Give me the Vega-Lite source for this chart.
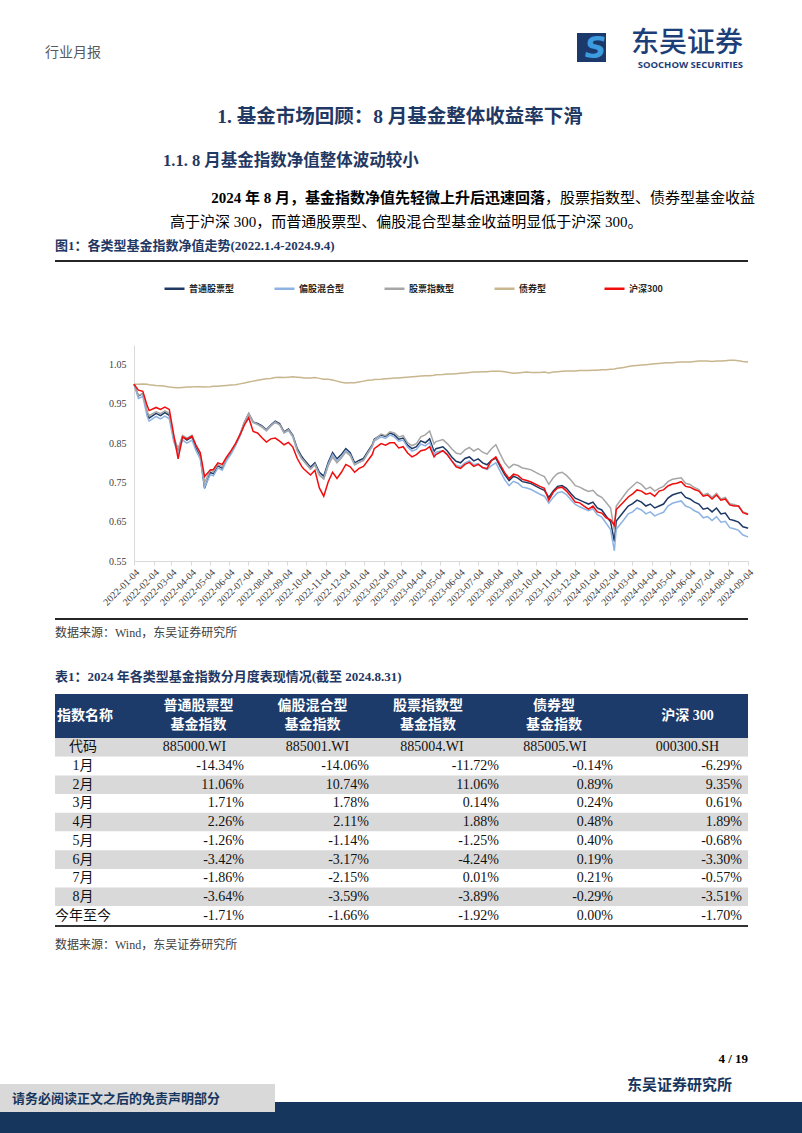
{
  "$schema": "https://vega.github.io/schema/vega-lite/v6.json",
  "background": "#ffffff",
  "padding": 0,
  "spacing": 0,
  "config": {
    "view": {"stroke": null},
    "concat": {"spacing": 0},
    "title": {"orient": "bottom", "anchor": "start", "frame": "group", "font": "Liberation Serif, Noto Sans CJK SC", "fontWeight": "normal", "color": "#000000", "offset": 0, "limit": 0},
    "axis": {"grid": false}
  },
  "datasets": {
    "净值走势": [
      {"日期":"2022-01-04","普通股票型":1.000,"偏股混合型":1.000,"股票指数型":1.000,"债券型":1.000,"沪深300":1.000},
      {"日期":"2022-01-11","普通股票型":0.970,"偏股混合型":0.964,"股票指数型":0.972,"债券型":1.000,"沪深300":0.985},
      {"日期":"2022-01-18","普通股票型":0.976,"偏股混合型":0.969,"股票指数型":0.976,"债券型":1.001,"沪深300":0.982},
      {"日期":"2022-01-25","普通股票型":0.926,"偏股混合型":0.918,"股票指数型":0.930,"债券型":1.000,"沪深300":0.945},
      {"日期":"2022-01-28","普通股票型":0.914,"偏股混合型":0.906,"股票指数型":0.920,"债券型":0.999,"沪深300":0.933},
      {"日期":"2022-02-08","普通股票型":0.926,"偏股混合型":0.918,"股票指数型":0.930,"债券型":0.997,"沪深300":0.941},
      {"日期":"2022-02-15","普通股票型":0.920,"偏股混合型":0.912,"股票指数型":0.925,"债券型":0.996,"沪深300":0.936},
      {"日期":"2022-02-22","普通股票型":0.928,"偏股混合型":0.919,"股票指数型":0.932,"债券型":0.995,"沪深300":0.942},
      {"日期":"2022-03-01","普通股票型":0.921,"偏股混合型":0.912,"股票指数型":0.926,"债券型":0.993,"沪深300":0.936},
      {"日期":"2022-03-08","普通股票型":0.862,"偏股混合型":0.854,"股票指数型":0.866,"债券型":0.992,"沪深300":0.872},
      {"日期":"2022-03-15","普通股票型":0.832,"偏股混合型":0.824,"股票指数型":0.836,"债券型":0.991,"沪深300":0.810},
      {"日期":"2022-03-22","普通股票型":0.866,"偏股混合型":0.858,"股票指数型":0.870,"债券型":0.992,"沪深300":0.866},
      {"日期":"2022-03-29","普通股票型":0.858,"偏股混合型":0.850,"股票指数型":0.863,"债券型":0.993,"沪深300":0.860},
      {"日期":"2022-04-06","普通股票型":0.866,"偏股混合型":0.858,"股票指数型":0.870,"债券型":0.993,"沪深300":0.868},
      {"日期":"2022-04-12","普通股票型":0.840,"偏股混合型":0.832,"股票指数型":0.846,"债券型":0.994,"沪深300":0.846},
      {"日期":"2022-04-19","普通股票型":0.818,"偏股混合型":0.810,"股票指数型":0.822,"债券型":0.994,"沪深300":0.826},
      {"日期":"2022-04-26","普通股票型":0.735,"偏股混合型":0.738,"股票指数型":0.750,"债券型":0.993,"沪深300":0.765},
      {"日期":"2022-05-05","普通股票型":0.776,"偏股混合型":0.770,"股票指数型":0.781,"债券型":0.994,"沪深300":0.782},
      {"日期":"2022-05-10","普通股票型":0.772,"偏股混合型":0.767,"股票指数型":0.778,"债券型":0.995,"沪深300":0.783},
      {"日期":"2022-05-17","普通股票型":0.792,"偏股混合型":0.787,"股票指数型":0.796,"债券型":0.995,"沪深300":0.800},
      {"日期":"2022-05-24","普通股票型":0.786,"偏股混合型":0.781,"股票指数型":0.790,"债券型":0.996,"沪深300":0.796},
      {"日期":"2022-05-31","普通股票型":0.810,"偏股混合型":0.806,"股票指数型":0.813,"债券型":0.997,"沪深300":0.815},
      {"日期":"2022-06-07","普通股票型":0.826,"偏股混合型":0.822,"股票指数型":0.829,"债券型":0.998,"沪深300":0.831},
      {"日期":"2022-06-14","普通股票型":0.846,"偏股混合型":0.843,"股票指数型":0.848,"债券型":0.999,"沪深300":0.849},
      {"日期":"2022-06-21","普通股票型":0.870,"偏股混合型":0.868,"股票指数型":0.872,"债券型":1.001,"沪深300":0.871},
      {"日期":"2022-06-28","普通股票型":0.902,"偏股混合型":0.899,"股票指数型":0.904,"债券型":1.003,"沪深300":0.896},
      {"日期":"2022-07-05","普通股票型":0.925,"偏股混合型":0.924,"股票指数型":0.926,"债券型":1.006,"沪深300":0.915},
      {"日期":"2022-07-12","普通股票型":0.904,"偏股混合型":0.902,"股票指数型":0.904,"债券型":1.008,"沪深300":0.880},
      {"日期":"2022-07-19","普通股票型":0.900,"偏股混合型":0.898,"股票指数型":0.898,"债券型":1.010,"沪深300":0.876},
      {"日期":"2022-07-26","普通股票型":0.894,"偏股混合型":0.892,"股票指数型":0.891,"债券型":1.012,"沪深300":0.864},
      {"日期":"2022-08-02","普通股票型":0.884,"偏股混合型":0.882,"股票指数型":0.882,"债券型":1.014,"沪深300":0.853},
      {"日期":"2022-08-09","普通股票型":0.896,"偏股混合型":0.894,"股票指数型":0.894,"债券型":1.015,"沪深300":0.861},
      {"日期":"2022-08-16","普通股票型":0.906,"偏股混合型":0.904,"股票指数型":0.903,"债券型":1.017,"沪深300":0.863},
      {"日期":"2022-08-23","普通股票型":0.900,"偏股混合型":0.897,"股票指数型":0.897,"债券型":1.018,"沪深300":0.855},
      {"日期":"2022-08-30","普通股票型":0.879,"偏股混合型":0.876,"股票指数型":0.877,"债券型":1.017,"沪深300":0.846},
      {"日期":"2022-09-06","普通股票型":0.886,"偏股混合型":0.882,"股票指数型":0.884,"债券型":1.018,"沪深300":0.852},
      {"日期":"2022-09-13","普通股票型":0.870,"偏股混合型":0.866,"股票指数型":0.868,"债券型":1.019,"沪深300":0.840},
      {"日期":"2022-09-20","普通股票型":0.836,"偏股混合型":0.831,"股票指数型":0.831,"债券型":1.018,"沪深300":0.811},
      {"日期":"2022-09-27","普通股票型":0.816,"偏股混合型":0.811,"股票指数型":0.811,"债券型":1.017,"沪深300":0.791},
      {"日期":"2022-09-30","普通股票型":0.810,"偏股混合型":0.805,"股票指数型":0.805,"债券型":1.016,"沪深300":0.785},
      {"日期":"2022-10-11","普通股票型":0.789,"偏股混合型":0.784,"股票指数型":0.784,"债券型":1.016,"沪深300":0.769},
      {"日期":"2022-10-18","普通股票型":0.800,"偏股混合型":0.796,"股票指数型":0.795,"债券型":1.017,"沪深300":0.781},
      {"日期":"2022-10-25","普通股票型":0.776,"偏股混合型":0.771,"股票指数型":0.768,"债券型":1.015,"沪深300":0.736},
      {"日期":"2022-11-01","普通股票型":0.766,"偏股混合型":0.760,"股票指数型":0.759,"债券型":1.013,"沪深300":0.715},
      {"日期":"2022-11-08","普通股票型":0.801,"偏股混合型":0.796,"股票指数型":0.792,"债券型":1.013,"沪深300":0.751},
      {"日期":"2022-11-15","普通股票型":0.826,"偏股混合型":0.821,"股票指数型":0.815,"债券型":1.011,"沪深300":0.776},
      {"日期":"2022-11-22","普通股票型":0.810,"偏股混合型":0.805,"股票指数型":0.800,"债券型":1.008,"沪深300":0.760},
      {"日期":"2022-11-29","普通股票型":0.821,"偏股混合型":0.816,"股票指数型":0.812,"债券型":1.005,"沪深300":0.776},
      {"日期":"2022-12-06","普通股票型":0.836,"偏股混合型":0.831,"股票指数型":0.828,"债券型":1.003,"沪深300":0.796},
      {"日期":"2022-12-13","普通股票型":0.826,"偏股混合型":0.821,"股票指数型":0.818,"债券型":1.004,"沪深300":0.790},
      {"日期":"2022-12-20","普通股票型":0.800,"偏股混合型":0.795,"股票指数型":0.795,"债券型":1.004,"沪深300":0.776},
      {"日期":"2022-12-27","普通股票型":0.806,"偏股混合型":0.801,"股票指数型":0.801,"债券型":1.006,"沪深300":0.786},
      {"日期":"2023-01-03","普通股票型":0.811,"偏股混合型":0.806,"股票指数型":0.806,"债券型":1.008,"沪深300":0.791},
      {"日期":"2023-01-10","普通股票型":0.829,"偏股混合型":0.824,"股票指数型":0.826,"债券型":1.010,"沪深300":0.806},
      {"日期":"2023-01-17","普通股票型":0.846,"偏股混合型":0.841,"股票指数型":0.844,"债券型":1.011,"沪深300":0.821},
      {"日期":"2023-01-20","普通股票型":0.860,"偏股混合型":0.855,"股票指数型":0.858,"债券型":1.012,"沪深300":0.836},
      {"日期":"2023-01-31","普通股票型":0.871,"偏股混合型":0.866,"股票指数型":0.873,"债券型":1.013,"沪深300":0.849},
      {"日期":"2023-02-07","普通股票型":0.867,"偏股混合型":0.862,"股票指数型":0.869,"债券型":1.014,"沪深300":0.845},
      {"日期":"2023-02-14","普通股票型":0.876,"偏股混合型":0.871,"股票指数型":0.879,"债券型":1.015,"沪深300":0.851},
      {"日期":"2023-02-21","普通股票型":0.871,"偏股混合型":0.866,"股票指数型":0.876,"债券型":1.016,"沪深300":0.851},
      {"日期":"2023-02-28","普通股票型":0.860,"偏股混合型":0.855,"股票指数型":0.866,"债券型":1.016,"沪深300":0.838},
      {"日期":"2023-03-07","普通股票型":0.863,"偏股混合型":0.858,"股票指数型":0.869,"债券型":1.017,"沪深300":0.841},
      {"日期":"2023-03-14","普通股票型":0.845,"偏股混合型":0.840,"股票指数型":0.851,"债券型":1.018,"沪深300":0.825},
      {"日期":"2023-03-21","普通股票型":0.836,"偏股混合型":0.830,"股票指数型":0.844,"债券型":1.019,"沪深300":0.815},
      {"日期":"2023-03-28","普通股票型":0.841,"偏股混合型":0.834,"股票指数型":0.849,"债券型":1.020,"沪深300":0.821},
      {"日期":"2023-04-04","普通股票型":0.856,"偏股混合型":0.848,"股票指数型":0.866,"债券型":1.021,"沪深300":0.831},
      {"日期":"2023-04-11","普通股票型":0.851,"偏股混合型":0.843,"股票指数型":0.871,"债券型":1.022,"沪深300":0.833},
      {"日期":"2023-04-18","普通股票型":0.861,"偏股混合型":0.852,"股票指数型":0.881,"债券型":1.022,"沪深300":0.841},
      {"日期":"2023-04-25","普通股票型":0.829,"偏股混合型":0.821,"股票指数型":0.848,"债券型":1.023,"沪深300":0.815},
      {"日期":"2023-04-28","普通股票型":0.836,"偏股混合型":0.827,"股票指数型":0.854,"债券型":1.024,"沪深300":0.821},
      {"日期":"2023-05-09","普通股票型":0.841,"偏股混合型":0.831,"股票指数型":0.859,"债券型":1.025,"沪深300":0.831},
      {"日期":"2023-05-16","普通股票型":0.830,"偏股混合型":0.820,"股票指数型":0.849,"债券型":1.026,"沪深300":0.821},
      {"日期":"2023-05-23","普通股票型":0.815,"偏股混合型":0.805,"股票指数型":0.836,"债券型":1.026,"沪深300":0.805},
      {"日期":"2023-05-30","普通股票型":0.804,"偏股混合型":0.794,"股票指数型":0.825,"债券型":1.027,"沪深300":0.790},
      {"日期":"2023-06-06","普通股票型":0.800,"偏股混合型":0.790,"股票指数型":0.822,"债券型":1.028,"沪深300":0.786},
      {"日期":"2023-06-13","普通股票型":0.811,"偏股混合型":0.800,"股票指数型":0.833,"债券型":1.029,"沪深300":0.796},
      {"日期":"2023-06-20","普通股票型":0.815,"偏股混合型":0.805,"股票指数型":0.839,"债券型":1.030,"沪深300":0.801},
      {"日期":"2023-06-27","普通股票型":0.805,"偏股混合型":0.795,"股票指数型":0.830,"债券型":1.031,"沪深300":0.791},
      {"日期":"2023-07-04","普通股票型":0.810,"偏股混合型":0.798,"股票指数型":0.836,"债券型":1.031,"沪深300":0.796},
      {"日期":"2023-07-11","普通股票型":0.800,"偏股混合型":0.788,"股票指数型":0.827,"债券型":1.032,"沪深300":0.788},
      {"日期":"2023-07-18","普通股票型":0.795,"偏股混合型":0.783,"股票指数型":0.822,"债券型":1.032,"沪深300":0.785},
      {"日期":"2023-07-25","普通股票型":0.806,"偏股混合型":0.793,"股票指数型":0.836,"债券型":1.033,"沪深300":0.806},
      {"日期":"2023-08-01","普通股票型":0.812,"偏股混合型":0.800,"股票指数型":0.846,"债券型":1.033,"沪深300":0.815},
      {"日期":"2023-08-08","普通股票型":0.790,"偏股混合型":0.778,"股票指数型":0.822,"债券型":1.033,"沪深300":0.795},
      {"日期":"2023-08-15","普通股票型":0.770,"偏股混合型":0.757,"股票指数型":0.800,"债券型":1.032,"沪深300":0.775},
      {"日期":"2023-08-22","普通股票型":0.755,"偏股混合型":0.742,"股票指数型":0.787,"债券型":1.030,"沪深300":0.760},
      {"日期":"2023-08-29","普通股票型":0.766,"偏股混合型":0.753,"股票指数型":0.796,"债券型":1.028,"沪深300":0.771},
      {"日期":"2023-09-05","普通股票型":0.761,"偏股混合型":0.748,"股票指数型":0.793,"债券型":1.029,"沪深300":0.768},
      {"日期":"2023-09-12","普通股票型":0.752,"偏股混合型":0.738,"股票指数型":0.787,"债券型":1.030,"沪深300":0.758},
      {"日期":"2023-09-19","普通股票型":0.750,"偏股混合型":0.736,"股票指数型":0.785,"债券型":1.031,"沪深300":0.755},
      {"日期":"2023-09-26","普通股票型":0.747,"偏股混合型":0.732,"股票指数型":0.782,"债券型":1.030,"沪深300":0.751},
      {"日期":"2023-10-10","普通股票型":0.735,"偏股混合型":0.720,"股票指数型":0.770,"债券型":1.030,"沪深300":0.740},
      {"日期":"2023-10-17","普通股票型":0.730,"偏股混合型":0.715,"股票指数型":0.765,"债券型":1.031,"沪深300":0.735},
      {"日期":"2023-10-24","普通股票型":0.712,"偏股混合型":0.697,"股票指数型":0.745,"债券型":1.029,"沪深300":0.705},
      {"日期":"2023-10-31","普通股票型":0.728,"偏股混合型":0.712,"股票指数型":0.762,"债券型":1.031,"沪深300":0.725},
      {"日期":"2023-11-07","普通股票型":0.740,"偏股混合型":0.724,"股票指数型":0.773,"债券型":1.032,"沪深300":0.736},
      {"日期":"2023-11-14","普通股票型":0.742,"偏股混合型":0.726,"股票指数型":0.776,"债券型":1.033,"沪深300":0.738},
      {"日期":"2023-11-21","普通股票型":0.735,"偏股混合型":0.719,"股票指数型":0.768,"债券型":1.034,"沪深300":0.728},
      {"日期":"2023-11-28","普通股票型":0.722,"偏股混合型":0.706,"股票指数型":0.756,"债券型":1.034,"沪深300":0.715},
      {"日期":"2023-12-05","普通股票型":0.710,"偏股混合型":0.694,"股票指数型":0.742,"债券型":1.034,"沪深300":0.700},
      {"日期":"2023-12-12","普通股票型":0.705,"偏股混合型":0.688,"股票指数型":0.738,"债券型":1.035,"沪深300":0.698},
      {"日期":"2023-12-19","普通股票型":0.700,"偏股混合型":0.683,"股票指数型":0.732,"债券型":1.035,"沪深300":0.690},
      {"日期":"2023-12-26","普通股票型":0.695,"偏股混合型":0.678,"股票指数型":0.727,"债券型":1.035,"沪深300":0.682},
      {"日期":"2024-01-02","普通股票型":0.700,"偏股混合型":0.683,"股票指数型":0.730,"债券型":1.036,"沪深300":0.690},
      {"日期":"2024-01-09","普通股票型":0.685,"偏股混合型":0.668,"股票指数型":0.718,"债券型":1.036,"沪深300":0.675},
      {"日期":"2024-01-16","普通股票型":0.680,"偏股混合型":0.662,"股票指数型":0.712,"债券型":1.037,"沪深300":0.672},
      {"日期":"2024-01-23","普通股票型":0.664,"偏股混合型":0.646,"股票指数型":0.699,"债券型":1.037,"沪深300":0.660},
      {"日期":"2024-01-30","普通股票型":0.650,"偏股混合型":0.630,"股票指数型":0.685,"债券型":1.038,"沪深300":0.655},
      {"日期":"2024-02-05","普通股票型":0.600,"偏股混合型":0.576,"股票指数型":0.628,"债券型":1.039,"沪深300":0.641},
      {"日期":"2024-02-08","普通股票型":0.652,"偏股混合型":0.631,"股票指数型":0.690,"债券型":1.040,"沪深300":0.681},
      {"日期":"2024-02-20","普通股票型":0.676,"偏股混合型":0.655,"股票指数型":0.716,"债券型":1.043,"沪深300":0.701},
      {"日期":"2024-02-27","普通股票型":0.690,"偏股混合型":0.670,"股票指数型":0.731,"债券型":1.045,"沪深300":0.713},
      {"日期":"2024-03-05","普通股票型":0.696,"偏股混合型":0.675,"股票指数型":0.741,"债券型":1.047,"沪深300":0.721},
      {"日期":"2024-03-12","普通股票型":0.705,"偏股混合型":0.685,"股票指数型":0.751,"债券型":1.048,"沪深300":0.731},
      {"日期":"2024-03-19","普通股票型":0.700,"偏股混合型":0.680,"股票指数型":0.745,"债券型":1.049,"沪深300":0.728},
      {"日期":"2024-03-26","普通股票型":0.690,"偏股混合型":0.670,"股票指数型":0.733,"债券型":1.050,"沪深300":0.720},
      {"日期":"2024-04-02","普通股票型":0.695,"偏股混合型":0.675,"股票指数型":0.738,"债券型":1.051,"沪深300":0.723},
      {"日期":"2024-04-09","普通股票型":0.685,"偏股混合型":0.665,"股票指数型":0.728,"债券型":1.052,"沪深300":0.715},
      {"日期":"2024-04-16","普通股票型":0.690,"偏股混合型":0.670,"股票指数型":0.735,"债券型":1.053,"沪深300":0.728},
      {"日期":"2024-04-23","普通股票型":0.695,"偏股混合型":0.674,"股票指数型":0.740,"债券型":1.054,"沪深300":0.731},
      {"日期":"2024-04-30","普通股票型":0.710,"偏股混合型":0.690,"股票指数型":0.752,"债券型":1.055,"沪深300":0.741},
      {"日期":"2024-05-07","普通股票型":0.718,"偏股混合型":0.697,"股票指数型":0.758,"债券型":1.055,"沪深300":0.746},
      {"日期":"2024-05-14","普通股票型":0.722,"偏股混合型":0.700,"股票指数型":0.760,"债券型":1.056,"沪深300":0.748},
      {"日期":"2024-05-21","普通股票型":0.725,"偏股混合型":0.703,"股票指数型":0.762,"债券型":1.057,"沪深300":0.752},
      {"日期":"2024-05-28","普通股票型":0.712,"偏股混合型":0.690,"股票指数型":0.748,"债券型":1.057,"沪深300":0.740},
      {"日期":"2024-06-04","普通股票型":0.708,"偏股混合型":0.686,"股票指数型":0.745,"债券型":1.057,"沪深300":0.738},
      {"日期":"2024-06-11","普通股票型":0.700,"偏股混合型":0.678,"股票指数型":0.737,"债券型":1.058,"沪深300":0.732},
      {"日期":"2024-06-18","普通股票型":0.695,"偏股混合型":0.673,"股票指数型":0.732,"债券型":1.059,"沪深300":0.728},
      {"日期":"2024-06-25","普通股票型":0.682,"偏股混合型":0.660,"股票指数型":0.718,"债券型":1.059,"沪深300":0.715},
      {"日期":"2024-07-02","普通股票型":0.685,"偏股混合型":0.663,"股票指数型":0.722,"债券型":1.059,"沪深300":0.718},
      {"日期":"2024-07-09","普通股票型":0.675,"偏股混合型":0.653,"股票指数型":0.712,"债券型":1.058,"沪深300":0.708},
      {"日期":"2024-07-16","普通股票型":0.685,"偏股混合型":0.663,"股票指数型":0.722,"债券型":1.059,"沪深300":0.718},
      {"日期":"2024-07-23","普通股票型":0.670,"偏股混合型":0.649,"股票指数型":0.708,"债券型":1.059,"沪深300":0.705},
      {"日期":"2024-07-30","普通股票型":0.672,"偏股混合型":0.651,"股票指数型":0.712,"债券型":1.060,"沪深300":0.708},
      {"日期":"2024-08-06","普通股票型":0.656,"偏股混合型":0.635,"股票指数型":0.696,"债券型":1.061,"沪深300":0.693},
      {"日期":"2024-08-13","普通股票型":0.653,"偏股混合型":0.632,"股票指数型":0.694,"债券型":1.061,"沪深300":0.690},
      {"日期":"2024-08-20","普通股票型":0.649,"偏股混合型":0.628,"股票指数型":0.690,"债券型":1.060,"沪深300":0.690},
      {"日期":"2024-08-27","普通股票型":0.637,"偏股混合型":0.616,"股票指数型":0.675,"债券型":1.058,"沪深300":0.673},
      {"日期":"2024-09-03","普通股票型":0.634,"偏股混合型":0.612,"股票指数型":0.671,"债券型":1.057,"沪深300":0.669},
      {"日期":"2024-09-04","普通股票型":0.633,"偏股混合型":0.611,"股票指数型":0.670,"债券型":1.057,"沪深300":0.668}
    ],
    "表格": [
      {"月份":"代码","指数":"普通股票型基金指数","数值":"885000.WI"},
      {"月份":"代码","指数":"偏股混合型基金指数","数值":"885001.WI"},
      {"月份":"代码","指数":"股票指数型基金指数","数值":"885004.WI"},
      {"月份":"代码","指数":"债券型基金指数","数值":"885005.WI"},
      {"月份":"代码","指数":"沪深300","数值":"000300.SH"},
      {"月份":"1月","指数":"普通股票型基金指数","数值":"-14.34%"},
      {"月份":"1月","指数":"偏股混合型基金指数","数值":"-14.06%"},
      {"月份":"1月","指数":"股票指数型基金指数","数值":"-11.72%"},
      {"月份":"1月","指数":"债券型基金指数","数值":"-0.14%"},
      {"月份":"1月","指数":"沪深300","数值":"-6.29%"},
      {"月份":"2月","指数":"普通股票型基金指数","数值":"11.06%"},
      {"月份":"2月","指数":"偏股混合型基金指数","数值":"10.74%"},
      {"月份":"2月","指数":"股票指数型基金指数","数值":"11.06%"},
      {"月份":"2月","指数":"债券型基金指数","数值":"0.89%"},
      {"月份":"2月","指数":"沪深300","数值":"9.35%"},
      {"月份":"3月","指数":"普通股票型基金指数","数值":"1.71%"},
      {"月份":"3月","指数":"偏股混合型基金指数","数值":"1.78%"},
      {"月份":"3月","指数":"股票指数型基金指数","数值":"0.14%"},
      {"月份":"3月","指数":"债券型基金指数","数值":"0.24%"},
      {"月份":"3月","指数":"沪深300","数值":"0.61%"},
      {"月份":"4月","指数":"普通股票型基金指数","数值":"2.26%"},
      {"月份":"4月","指数":"偏股混合型基金指数","数值":"2.11%"},
      {"月份":"4月","指数":"股票指数型基金指数","数值":"1.88%"},
      {"月份":"4月","指数":"债券型基金指数","数值":"0.48%"},
      {"月份":"4月","指数":"沪深300","数值":"1.89%"},
      {"月份":"5月","指数":"普通股票型基金指数","数值":"-1.26%"},
      {"月份":"5月","指数":"偏股混合型基金指数","数值":"-1.14%"},
      {"月份":"5月","指数":"股票指数型基金指数","数值":"-1.25%"},
      {"月份":"5月","指数":"债券型基金指数","数值":"0.40%"},
      {"月份":"5月","指数":"沪深300","数值":"-0.68%"},
      {"月份":"6月","指数":"普通股票型基金指数","数值":"-3.42%"},
      {"月份":"6月","指数":"偏股混合型基金指数","数值":"-3.17%"},
      {"月份":"6月","指数":"股票指数型基金指数","数值":"-4.24%"},
      {"月份":"6月","指数":"债券型基金指数","数值":"0.19%"},
      {"月份":"6月","指数":"沪深300","数值":"-3.30%"},
      {"月份":"7月","指数":"普通股票型基金指数","数值":"-1.86%"},
      {"月份":"7月","指数":"偏股混合型基金指数","数值":"-2.15%"},
      {"月份":"7月","指数":"股票指数型基金指数","数值":"0.01%"},
      {"月份":"7月","指数":"债券型基金指数","数值":"0.21%"},
      {"月份":"7月","指数":"沪深300","数值":"-0.57%"},
      {"月份":"8月","指数":"普通股票型基金指数","数值":"-3.64%"},
      {"月份":"8月","指数":"偏股混合型基金指数","数值":"-3.59%"},
      {"月份":"8月","指数":"股票指数型基金指数","数值":"-3.89%"},
      {"月份":"8月","指数":"债券型基金指数","数值":"-0.29%"},
      {"月份":"8月","指数":"沪深300","数值":"-3.51%"},
      {"月份":"今年至今","指数":"普通股票型基金指数","数值":"-1.71%"},
      {"月份":"今年至今","指数":"偏股混合型基金指数","数值":"-1.66%"},
      {"月份":"今年至今","指数":"股票指数型基金指数","数值":"-1.92%"},
      {"月份":"今年至今","指数":"债券型基金指数","数值":"0.00%"},
      {"月份":"今年至今","指数":"沪深300","数值":"-1.70%"}
    ]
  },
  "vconcat": [
    {"spacing":0,"hconcat":[
      {"width":577,"height":80,"data":{"values":[]},"mark":"point","title":{"text":"行业月报","font":"Noto Sans CJK SC","fontSize":14,"color":"#595959","dx":45,"offset":-34}},
      {"spacing":0,"vconcat":[
        {"width":29,"height":33,"data":{"values":[]},"mark":"point"},
        {"width":29,"height":29,"view":{"fill":"#1b3a6b"},"data":{"values":[{}]},"mark":{"type":"text","text":"S","font":"DejaVu Sans","fontSize":30,"fontWeight":"bold","fontStyle":"italic","color":"#3d9be0","baseline":"middle","dx":4,"dy":1}},
        {"width":29,"height":18,"data":{"values":[]},"mark":"point"}
      ]},
      {"width":196,"height":80,"data":{"values":[]},"mark":"point","title":{"text":"东吴证券","subtitle":"SOOCHOW SECURITIES","anchor":"end","dx":-60,"offset":-50,"font":"Noto Sans CJK SC","fontSize":28,"fontWeight":500,"color":"#1c3f7a","subtitleFont":"Open Sans","subtitleFontSize":9.5,"subtitleFontWeight":"bold","subtitleColor":"#1c3f7a","subtitlePadding":2}}
    ]},
    {"width":802,"height":60,"data":{"values":[]},"mark":"point","title":{"text":"1.  基金市场回顾：8 月基金整体收益率下滑","anchor":"middle","dx":-1,"offset":-33.6,"fontSize":19.5,"fontWeight":"bold","color":"#1f3864"}},
    {"width":802,"height":38,"data":{"values":[]},"mark":"point","title":{"text":"1.1.  8 月基金指数净值整体波动较小","dx":163,"offset":-26.6,"fontSize":16.5,"fontWeight":"bold","color":"#1f3864"}},
    {"spacing":0,"hconcat":[
      {"width":545,"height":32,"data":{"values":[]},"mark":"point","title":{"text":"2024 年 8 月，基金指数净值先轻微上升后迅速回落","anchor":"end","offset":-21.2,"fontSize":15,"fontWeight":"bold","color":"#000000"}},
      {"width":257,"height":32,"data":{"values":[]},"mark":"point","title":{"text":"，股票指数型、债券型基金收益","offset":-21.2,"fontSize":15,"color":"#000000"}}
    ]},
    {"width":802,"height":25,"data":{"values":[]},"mark":"point","title":{"text":"高于沪深 300，而普通股票型、偏股混合型基金收益明显低于沪深 300。","dx":170,"offset":-22.2,"fontSize":15,"color":"#000000"}},
    {"width":802,"height":23,"data":{"values":[]},"mark":"point","title":{"text":"图1：各类型基金指数净值走势(2022.1.4-2024.9.4)","dx":55,"offset":-20.3,"fontSize":13,"fontWeight":"bold","color":"#1f3864"}},
    {"spacing":0,"hconcat":[
      {"width":55,"height":2,"data":{"values":[]},"mark":"point"},
      {"width":693,"height":2,"view":{"fill":"#262626"},"data":{"values":[]},"mark":"point"}
    ]},
    {"width":802,"height":83,"data":{"values":[]},"mark":"point"},
    {"spacing":0,"hconcat":[
      {"width":101,"height":273,"data":{"values":[]},"mark":"point"},
      {
        "width":614,"height":216,
        "data":{"name":"净值走势"},
        "transform":[{"fold":["普通股票型","偏股混合型","股票指数型","债券型","沪深300"],"as":["系列","净值"]}],
        "mark":{"type":"line","strokeWidth":1.5},
        "encoding":{
          "x":{"field":"日期","type":"temporal",
            "scale":{"type":"utc","domain":[{"year":2022,"month":1,"date":4,"utc":true},{"year":2024,"month":9,"date":4,"utc":true}]},
            "axis":{"title":null,"format":"%Y-%m-%d","labelAngle":-45,"labelOverlap":false,"labelFlush":false,"labelBound":false,
              "labelFont":"Liberation Serif","labelFontSize":10,"labelColor":"#404040","labelPadding":2,
              "domainColor":"#d9d9d9","tickColor":"#d9d9d9","tickSize":4,"grid":false,
              "values":[
                {"year":2022,"month":1,"date":4,"utc":true},{"year":2022,"month":2,"date":4,"utc":true},{"year":2022,"month":3,"date":4,"utc":true},
                {"year":2022,"month":4,"date":4,"utc":true},{"year":2022,"month":5,"date":4,"utc":true},{"year":2022,"month":6,"date":4,"utc":true},
                {"year":2022,"month":7,"date":4,"utc":true},{"year":2022,"month":8,"date":4,"utc":true},{"year":2022,"month":9,"date":4,"utc":true},
                {"year":2022,"month":10,"date":4,"utc":true},{"year":2022,"month":11,"date":4,"utc":true},{"year":2022,"month":12,"date":4,"utc":true},
                {"year":2023,"month":1,"date":4,"utc":true},{"year":2023,"month":2,"date":4,"utc":true},{"year":2023,"month":3,"date":4,"utc":true},
                {"year":2023,"month":4,"date":4,"utc":true},{"year":2023,"month":5,"date":4,"utc":true},{"year":2023,"month":6,"date":4,"utc":true},
                {"year":2023,"month":7,"date":4,"utc":true},{"year":2023,"month":8,"date":4,"utc":true},{"year":2023,"month":9,"date":4,"utc":true},
                {"year":2023,"month":10,"date":4,"utc":true},{"year":2023,"month":11,"date":4,"utc":true},{"year":2023,"month":12,"date":4,"utc":true},
                {"year":2024,"month":1,"date":4,"utc":true},{"year":2024,"month":2,"date":4,"utc":true},{"year":2024,"month":3,"date":4,"utc":true},
                {"year":2024,"month":4,"date":4,"utc":true},{"year":2024,"month":5,"date":4,"utc":true},{"year":2024,"month":6,"date":4,"utc":true},
                {"year":2024,"month":7,"date":4,"utc":true},{"year":2024,"month":8,"date":4,"utc":true},{"year":2024,"month":9,"date":4,"utc":true}
              ]}},
          "y":{"field":"净值","type":"quantitative","scale":{"domain":[0.55,1.1],"zero":false,"nice":false},
            "axis":{"title":null,"values":[0.55,0.65,0.75,0.85,0.95,1.05],"format":".2f","ticks":false,"grid":false,
              "domainColor":"#d9d9d9","labelFont":"Liberation Serif","labelFontSize":10,"labelColor":"#404040","labelPadding":8}},
          "color":{"field":"系列","type":"nominal",
            "scale":{"domain":["普通股票型","偏股混合型","股票指数型","债券型","沪深300"],"range":["#1f3864","#8db3e2","#a6a6a6","#c8b68e","#f20d0d"]},
            "legend":{"title":null,"orient":"none","legendX":163,"legendY":277,"direction":"horizontal","columns":5,"gridAlign":"all","columnPadding":34,
              "symbolType":"stroke","symbolSize":400,"symbolStrokeWidth":2.5,"labelOffset":3,
              "labelFont":"Noto Sans CJK SC","labelFontSize":9,"labelFontWeight":"bold","labelColor":"#262626"}}
        }
      }
    ]},
    {"spacing":0,"hconcat":[
      {"width":55,"height":2,"data":{"values":[]},"mark":"point"},
      {"width":693,"height":2,"view":{"fill":"#262626"},"data":{"values":[]},"mark":"point"}
    ]},
    {"width":802,"height":42,"data":{"values":[]},"mark":"point","title":{"text":"数据来源：Wind，东吴证券研究所","dx":55,"offset":-34,"fontSize":12,"color":"#404040"}},
    {"width":802,"height":32,"data":{"values":[]},"mark":"point","title":{"text":"表1：2024 年各类型基金指数分月度表现情况(截至 2024.8.31)","dx":55,"offset":-23.3,"fontSize":13,"fontWeight":"bold","color":"#1f3864"}},
    {"spacing":0,"hconcat":[
      {"width":55,"height":44,"data":{"values":[]},"mark":"point"},
      {"width":60,"height":44,"view":{"fill":"#1c3a6a"},"data":{"values":[]},"mark":"point","title":{"text":"指数名称","anchor":"middle","offset":-28.7,"font":"Noto Sans CJK SC","fontSize":14,"fontWeight":"bold","color":"#ffffff"}},
      {"width":135,"height":44,"view":{"fill":"#1c3a6a"},"data":{"values":[]},"mark":"point","title":{"text":["普通股票型","基金指数"],"lineHeight":19,"anchor":"middle","dx":16,"offset":-39,"font":"Noto Sans CJK SC","fontSize":14,"fontWeight":"bold","color":"#ffffff"}},
      {"width":125,"height":44,"view":{"fill":"#1c3a6a"},"data":{"values":[]},"mark":"point","title":{"text":["偏股混合型","基金指数"],"lineHeight":19,"anchor":"middle","dx":0,"offset":-39,"font":"Noto Sans CJK SC","fontSize":14,"fontWeight":"bold","color":"#ffffff"}},
      {"width":130,"height":44,"view":{"fill":"#1c3a6a"},"data":{"values":[]},"mark":"point","title":{"text":["股票指数型","基金指数"],"lineHeight":19,"anchor":"middle","dx":-12,"offset":-39,"font":"Noto Sans CJK SC","fontSize":14,"fontWeight":"bold","color":"#ffffff"}},
      {"width":114,"height":44,"view":{"fill":"#1c3a6a"},"data":{"values":[]},"mark":"point","title":{"text":["债券型","基金指数"],"lineHeight":19,"anchor":"middle","dx":-8,"offset":-39,"font":"Noto Sans CJK SC","fontSize":14,"fontWeight":"bold","color":"#ffffff"}},
      {"width":129,"height":44,"view":{"fill":"#1c3a6a"},"data":{"values":[]},"mark":"point","title":{"text":"沪深 300","anchor":"middle","dx":4,"offset":-28.7,"font":"Liberation Serif, Noto Sans CJK SC","fontSize":14,"fontWeight":"bold","color":"#ffffff"}}
    ]},
    {"spacing":0,"hconcat":[
      {"width":55,"height":187,"data":{"values":[]},"mark":"point"},
      {"width":60,"height":187,"data":{"name":"表格"},"transform":[{"filter":"datum['指数'] === '沪深300'"}],
        "encoding":{"y":{"field":"月份","type":"nominal","sort":null,"axis":null,"scale":{"paddingInner":0,"paddingOuter":0}}},
        "layer":[
          {"mark":{"type":"rect"},"encoding":{"fill":{"condition":{"test":"indexof(['代码','2月','4月','6月','8月'], datum['月份']) >= 0","value":"#d9d9d9"},"value":"#ffffff"}}},
          {"mark":{"type":"text","baseline":"middle","align":"center","dx":-2,"font":"Liberation Serif, Noto Sans CJK SC","fontSize":14,"color":"#111111"},"encoding":{"text":{"field":"月份"}}}
        ]},
      {"width":135,"height":187,"data":{"name":"表格"},"transform":[{"filter":"datum['指数'] === '普通股票型基金指数'"}],
        "encoding":{"y":{"field":"月份","type":"nominal","sort":null,"axis":null,"scale":{"paddingInner":0,"paddingOuter":0}}},
        "layer":[
          {"mark":{"type":"rect"},"encoding":{"fill":{"condition":{"test":"indexof(['代码','2月','4月','6月','8月'], datum['月份']) >= 0","value":"#d9d9d9"},"value":"#ffffff"}}},
          {"transform":[{"filter":"datum['月份'] === '代码'"}],"mark":{"type":"text","baseline":"middle","align":"center","dx":12,"font":"Liberation Serif","fontSize":14,"color":"#111111"},"encoding":{"text":{"field":"数值"}}},
          {"transform":[{"filter":"datum['月份'] !== '代码'"}],"mark":{"type":"text","baseline":"middle","align":"right","dx":61.5,"font":"Liberation Serif","fontSize":14,"color":"#111111"},"encoding":{"text":{"field":"数值"}}}
        ]},
      {"width":125,"height":187,"data":{"name":"表格"},"transform":[{"filter":"datum['指数'] === '偏股混合型基金指数'"}],
        "encoding":{"y":{"field":"月份","type":"nominal","sort":null,"axis":null,"scale":{"paddingInner":0,"paddingOuter":0}}},
        "layer":[
          {"mark":{"type":"rect"},"encoding":{"fill":{"condition":{"test":"indexof(['代码','2月','4月','6月','8月'], datum['月份']) >= 0","value":"#d9d9d9"},"value":"#ffffff"}}},
          {"transform":[{"filter":"datum['月份'] === '代码'"}],"mark":{"type":"text","baseline":"middle","align":"center","dx":5,"font":"Liberation Serif","fontSize":14,"color":"#111111"},"encoding":{"text":{"field":"数值"}}},
          {"transform":[{"filter":"datum['月份'] !== '代码'"}],"mark":{"type":"text","baseline":"middle","align":"right","dx":56.5,"font":"Liberation Serif","fontSize":14,"color":"#111111"},"encoding":{"text":{"field":"数值"}}}
        ]},
      {"width":130,"height":187,"data":{"name":"表格"},"transform":[{"filter":"datum['指数'] === '股票指数型基金指数'"}],
        "encoding":{"y":{"field":"月份","type":"nominal","sort":null,"axis":null,"scale":{"paddingInner":0,"paddingOuter":0}}},
        "layer":[
          {"mark":{"type":"rect"},"encoding":{"fill":{"condition":{"test":"indexof(['代码','2月','4月','6月','8月'], datum['月份']) >= 0","value":"#d9d9d9"},"value":"#ffffff"}}},
          {"transform":[{"filter":"datum['月份'] === '代码'"}],"mark":{"type":"text","baseline":"middle","align":"center","dx":-8,"font":"Liberation Serif","fontSize":14,"color":"#111111"},"encoding":{"text":{"field":"数值"}}},
          {"transform":[{"filter":"datum['月份'] !== '代码'"}],"mark":{"type":"text","baseline":"middle","align":"right","dx":59,"font":"Liberation Serif","fontSize":14,"color":"#111111"},"encoding":{"text":{"field":"数值"}}}
        ]},
      {"width":114,"height":187,"data":{"name":"表格"},"transform":[{"filter":"datum['指数'] === '债券型基金指数'"}],
        "encoding":{"y":{"field":"月份","type":"nominal","sort":null,"axis":null,"scale":{"paddingInner":0,"paddingOuter":0}}},
        "layer":[
          {"mark":{"type":"rect"},"encoding":{"fill":{"condition":{"test":"indexof(['代码','2月','4月','6月','8月'], datum['月份']) >= 0","value":"#d9d9d9"},"value":"#ffffff"}}},
          {"transform":[{"filter":"datum['月份'] === '代码'"}],"mark":{"type":"text","baseline":"middle","align":"center","dx":-7,"font":"Liberation Serif","fontSize":14,"color":"#111111"},"encoding":{"text":{"field":"数值"}}},
          {"transform":[{"filter":"datum['月份'] !== '代码'"}],"mark":{"type":"text","baseline":"middle","align":"right","dx":51,"font":"Liberation Serif","fontSize":14,"color":"#111111"},"encoding":{"text":{"field":"数值"}}}
        ]},
      {"width":129,"height":187,"data":{"name":"表格"},"transform":[{"filter":"datum['指数'] === '沪深300'"}],
        "encoding":{"y":{"field":"月份","type":"nominal","sort":null,"axis":null,"scale":{"paddingInner":0,"paddingOuter":0}}},
        "layer":[
          {"mark":{"type":"rect"},"encoding":{"fill":{"condition":{"test":"indexof(['代码','2月','4月','6月','8月'], datum['月份']) >= 0","value":"#d9d9d9"},"value":"#ffffff"}}},
          {"transform":[{"filter":"datum['月份'] === '代码'"}],"mark":{"type":"text","baseline":"middle","align":"center","dx":4,"font":"Liberation Serif","fontSize":14,"color":"#111111"},"encoding":{"text":{"field":"数值"}}},
          {"transform":[{"filter":"datum['月份'] !== '代码'"}],"mark":{"type":"text","baseline":"middle","align":"right","dx":58.5,"font":"Liberation Serif","fontSize":14,"color":"#111111"},"encoding":{"text":{"field":"数值"}}}
        ]}
    ]},
    {"spacing":0,"hconcat":[
      {"width":55,"height":2,"data":{"values":[]},"mark":"point"},
      {"width":693,"height":2,"view":{"fill":"#333333"},"data":{"values":[]},"mark":"point"}
    ]},
    {"width":802,"height":115,"data":{"values":[]},"mark":"point","title":{"text":"数据来源：Wind，东吴证券研究所","dx":55,"offset":-102,"fontSize":12,"color":"#404040"}},
    {"spacing":0,"hconcat":[
      {"spacing":0,"vconcat":[
        {"width":275,"height":42,"data":{"values":[]},"mark":"point"},
        {"width":275,"height":28,"view":{"fill":"#d9d9d9"},"data":{"values":[]},"mark":"point","title":{"text":"请务必阅读正文之后的免责声明部分","dx":12,"offset":-19.3,"font":"Noto Sans CJK SC","fontSize":13,"fontWeight":"bold","color":"#17365d"}}
      ]},
      {"spacing":0,"vconcat":[
        {"width":527,"height":30,"data":{"values":[]},"mark":"point","title":{"text":"4 / 19","anchor":"end","dx":-54,"offset":-19,"fontSize":13,"fontWeight":"bold","color":"#000000"}},
        {"width":527,"height":30,"data":{"values":[]},"mark":"point","title":{"text":"东吴证券研究所","anchor":"end","dx":-70,"offset":-24,"font":"Noto Sans CJK SC","fontSize":15,"fontWeight":"bold","color":"#17365d"}},
        {"width":527,"height":10,"view":{"fill":"#17365d"},"data":{"values":[]},"mark":"point"}
      ]}
    ]},
    {"width":802,"height":21,"view":{"fill":"#17365d"},"data":{"values":[]},"mark":"point"}
  ]
}
